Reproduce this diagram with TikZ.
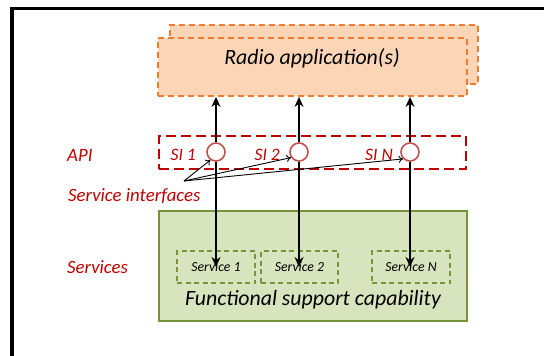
\documentclass[tikz,border=0pt]{standalone}
\usepackage{fontspec}
\setmainfont{Carlito}
\usetikzlibrary{arrows.meta}
\definecolor{apporange}{HTML}{ED7D31}
\definecolor{appfill}{HTML}{FBD5B5}
\definecolor{apired}{HTML}{C00000}
\definecolor{sicircle}{HTML}{C0504D}
\definecolor{fscgreen}{HTML}{77933C}
\definecolor{fscfill}{HTML}{D7E4BD}
\tikzset{
  appbox/.style={draw=apporange, fill=appfill, line width=1.8pt,
    dash pattern=on 6pt off 4pt, inner sep=0pt},
  apibox/.style={draw=apired, line width=1.6pt, dash pattern=on 10pt off 5pt, inner sep=0pt},
  sicirc/.style={circle, draw=sicircle, fill=white, line width=1.6pt,
    minimum size=18pt, inner sep=0pt},
  fscbox/.style={draw=fscgreen, fill=fscfill, line width=1.5pt, inner sep=0pt},
  svcbox/.style={draw=fscgreen, line width=1.5pt, dash pattern=on 5pt off 3.5pt,
    inner sep=0pt, font=\fontsize{13.8}{16}\selectfont\itshape},
  redlabel/.style={text=apired, font=\fontsize{18.8}{22}\selectfont\itshape, inner sep=0pt},
  silabel/.style={text=apired, font=\fontsize{17.5}{21}\selectfont\itshape, inner sep=0pt},
  bigtext/.style={font=\fontsize{21.8}{26}\selectfont\itshape, inner sep=0pt},
  flow/.style={line width=2.8pt, -{Stealth[length=10pt,width=9pt]}},
  pointer/.style={line width=0.9pt, -{To[length=4.5pt,width=7pt]}}
}
\begin{document}
\begin{tikzpicture}[x=1pt,y=-1pt]
\useasboundingbox (0,0) rectangle (544,356);
% frame
\draw[line width=3.5pt] (12,360) -- (12,8.5) -- (548,8.5);

% radio application boxes
\node[appbox, minimum width=308pt, minimum height=59pt] (appback) at (324,54.5) {};
\node[appbox, minimum width=309pt, minimum height=58pt] (app) at (312.5,67) {};
\node[bigtext] (apptext) at (312,58) {Radio application(s)};

% API box
\node[apibox, minimum width=307pt, minimum height=33pt] (api) at (312.5,152.5) {};

% functional support capability
\node[fscbox, minimum width=308pt, minimum height=110pt] (fsc) at (313,266) {};
\node[bigtext] (fsctext) at (313,300) {Functional support capability};
\node[svcbox, minimum width=78pt, minimum height=32pt] (s1) at (216,267) {Service 1};
\node[svcbox, minimum width=77pt, minimum height=32pt] (s2) at (299.5,267) {Service 2};
\node[svcbox, minimum width=78pt, minimum height=32pt] (sN) at (411,267) {Service N};

% service interfaces
\node[sicirc] (si1) at (216,152) {};
\node[sicirc] (si2) at (299,152) {};
\node[sicirc] (siN) at (410,152) {};
\node[silabel, anchor=east] (l1) at (196,155) {SI 1};
\node[silabel, anchor=east] (l2) at (280,155) {SI 2};
\node[silabel, anchor=east] (lN) at (393,155) {SI N};

% flows between the application and the services
\foreach \n in {1,2,N}{
  \draw[flow] (si\n.north) -- (si\n |- app.south);
  \draw[flow] (si\n.south) -- (si\n |- s\n.center);
}

% labels on the left
\node[redlabel, anchor=west] (apilabel) at (67,155) {API};
\node[redlabel, anchor=west] (silab) at (68,196) {Service interfaces};
\node[redlabel, anchor=west] (svclabel) at (67,267) {Services};

% pointers from the label to each interface
\coordinate (sifrom) at (184,181);
\draw[pointer] (sifrom) -- (si1.235);
\draw[pointer] (sifrom) -- (si2.215);
\draw[pointer] (sifrom) -- (siN.225);
\end{tikzpicture}
\end{document}
